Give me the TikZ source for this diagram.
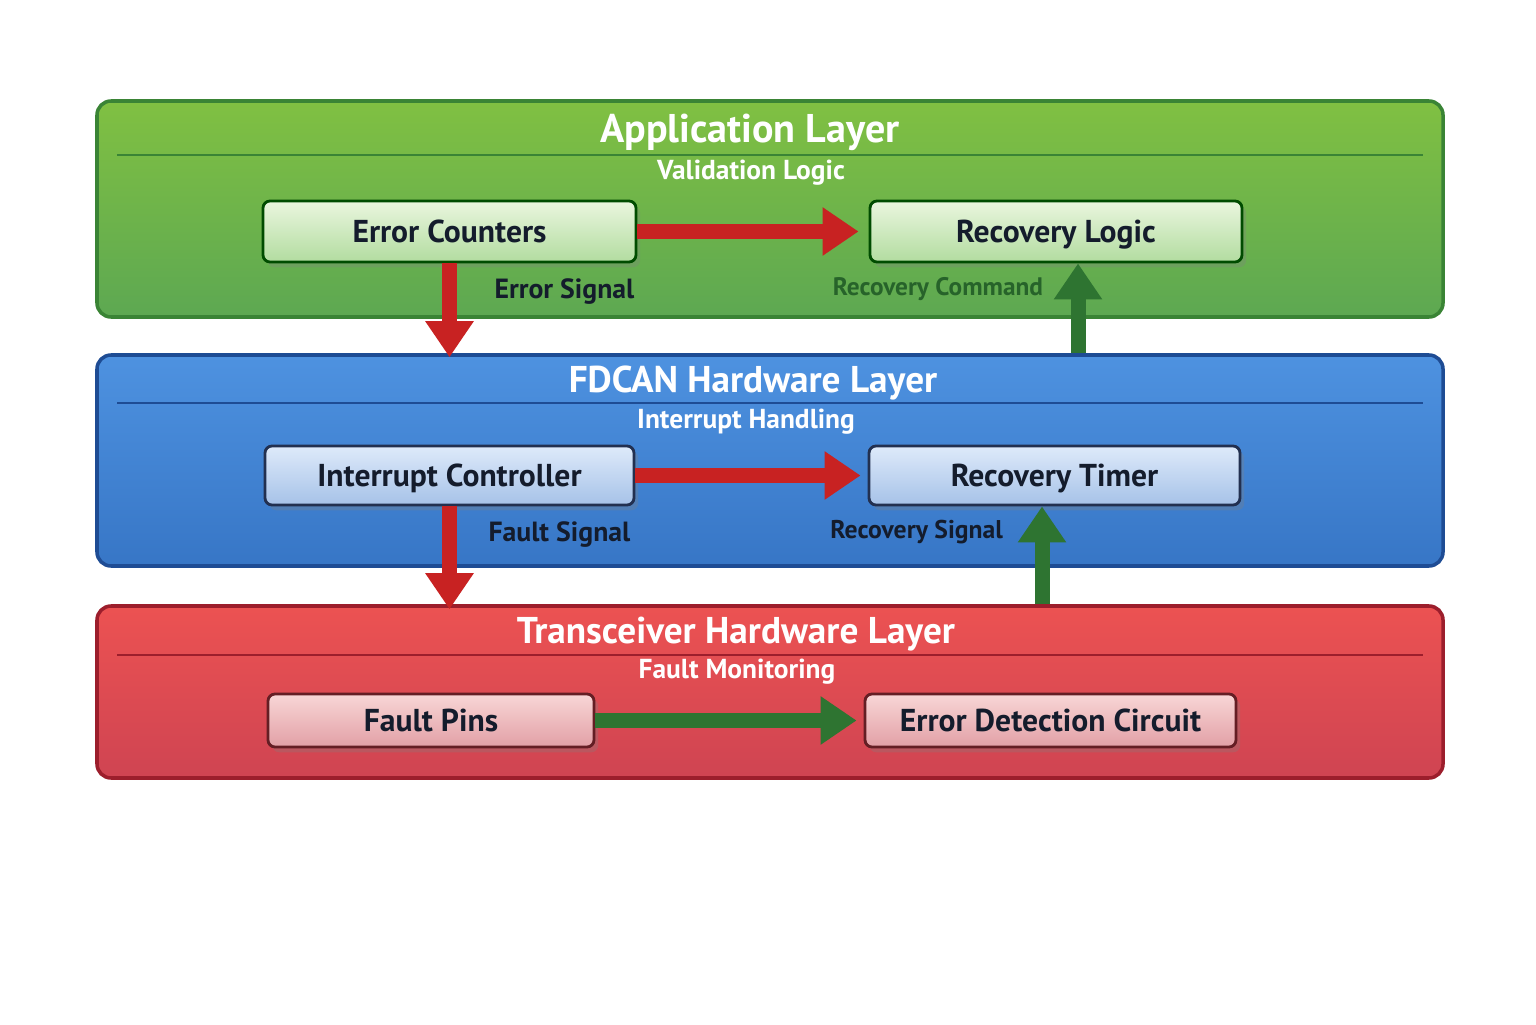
\documentclass[tikz,border=0pt]{standalone}
\usepackage{fontspec}
\setmainfont{PT Sans}
\usepackage{xcolor}
\usepackage{tikz}
\usetikzlibrary{positioning,arrows.meta,shadows}

\definecolor{appTop}{HTML}{80C042}
\definecolor{appBot}{HTML}{5DA852}
\definecolor{appLine}{HTML}{3A8435}
\definecolor{hwTop}{HTML}{4E92E0}
\definecolor{hwBot}{HTML}{3776C6}
\definecolor{hwLine}{HTML}{1E4C94}
\definecolor{trTop}{HTML}{EC5252}
\definecolor{trBot}{HTML}{CF4452}
\definecolor{trLine}{HTML}{9C1E2C}
\definecolor{arrRed}{HTML}{C82222}
\definecolor{arrGreen}{HTML}{2E7431}
\definecolor{txtDark}{HTML}{141C2C}

\begin{document}
\begin{tikzpicture}[
  layer/.style={rounded corners=4pt, line width=1pt, minimum width=13.46cm},
  title/.style={font=\fontsize{10.6}{12}\selectfont\bfseries, text=white},
  subtitle/.style={font=\fontsize{7.8}{9}\selectfont\bfseries, text=white},
  box/.style={draw, rounded corners=2pt, line width=0.8pt, font=\fontsize{9}{11}\selectfont\bfseries, text=txtDark, align=center,
    inner sep=2pt, text height=1.75ex, text depth=0.45ex,
    drop shadow={shadow xshift=1.2pt, shadow yshift=-1.5pt, opacity=0.3}},
  appbox/.style={box, draw=black!70!green, top color={rgb,255:red,234;green,246;blue,222}, bottom color={rgb,255:red,178;green,220;blue,160}},
  hwbox/.style={box, draw={rgb,255:red,34;green,48;blue,80}, top color={rgb,255:red,222;green,234;blue,250}, bottom color={rgb,255:red,166;green,194;blue,232}},
  trbox/.style={box, draw={rgb,255:red,100;green,30;blue,36}, top color={rgb,255:red,248;green,214;blue,214}, bottom color={rgb,255:red,226;green,160;blue,166}},
  arr/.style={-{Triangle[width=0.46cm, length=0.36cm]}, line width=0.15cm},
  redarr/.style={arr, arrRed},
  grnarr/.style={arr, arrGreen},
  siglabel/.style={font=\fontsize{7.9}{10}\selectfont\bfseries, text=txtDark, inner sep=1pt},
]
\useasboundingbox (0,0) rectangle (15.36,10.24);
\fill[white] (0,0) rectangle (15.36,10.24);

% Layer backgrounds
\node[layer, draw=appLine, top color=appTop, bottom color=appBot, minimum height=2.16cm] (app) at (7.70,8.15) {};
\node[layer, draw=hwLine, top color=hwTop, bottom color=hwBot, minimum height=2.11cm] (fdcan) at (7.70,5.635) {};
\node[layer, draw=trLine, top color=trTop, bottom color=trBot, minimum height=1.72cm] (trx) at (7.70,3.32) {};

% Layer headings
\node[title, font=\fontsize{11.4}{13}\selectfont\bfseries] (apptitle) at (7.50,8.92) {Application Layer};
\draw[appLine, line width=0.8pt] (1.17,8.69) -- (14.23,8.69);
\node[subtitle] (appsub) at (7.51,8.51) {Validation Logic};

\node[title] (hwtitle) at (7.53,6.41) {FDCAN Hardware Layer};
\draw[hwLine, line width=0.8pt] (1.17,6.21) -- (14.23,6.21);
\node[subtitle] (hwsub) at (7.46,6.02) {Interrupt Handling};

\node[title] (trtitle) at (7.36,3.90) {Transceiver Hardware Layer};
\draw[trLine, line width=0.8pt] (1.17,3.69) -- (14.23,3.69);
\node[subtitle] (trsub) at (7.37,3.52) {Fault Monitoring};

% Component boxes
\node[appbox, minimum width=3.73cm, minimum height=0.61cm] (ecnt) at (4.495,7.925) {Error Counters};
\node[appbox, minimum width=3.72cm, minimum height=0.61cm] (rlog) at (10.56,7.925) {Recovery Logic};
\node[hwbox, minimum width=3.69cm, minimum height=0.59cm] (irq) at (4.495,5.485) {Interrupt Controller};
\node[hwbox, minimum width=3.71cm, minimum height=0.59cm] (rtim) at (10.545,5.485) {Recovery Timer};
\node[trbox, minimum width=3.26cm, minimum height=0.53cm] (fpins) at (4.31,3.035) {Fault Pins};
\node[trbox, minimum width=3.71cm, minimum height=0.53cm] (edc) at (10.505,3.035) {Error Detection Circuit};

% Flow inside layers
\draw[redarr, shorten >=0.1cm] (ecnt) -- (rlog);
\draw[redarr, shorten >=0.07cm] (irq) -- (rtim);
\draw[grnarr, shorten >=0.07cm] (fpins) -- (edc);

% Flow between layers
\draw[redarr] (ecnt.south) -- node[siglabel, pos=0.3, right=0.34cm] {Error Signal} ([yshift=-0.04cm]ecnt.south |- fdcan.north);
\draw[redarr] (irq.south) -- node[siglabel, pos=0.27, right=0.28cm] {Fault Signal} ([yshift=-0.05cm]irq.south |- trx.north);
\draw[grnarr] ([xshift=0.22cm]rlog.south |- fdcan.north) -- node[siglabel, text=arrGreen!85!black, font=\fontsize{7.2}{9}\selectfont\bfseries, pos=0.72, left=0.24cm] {Recovery Command} ([xshift=0.22cm]rlog.south);
\draw[grnarr] ([xshift=-0.125cm]rtim.south |- trx.north) -- node[siglabel, font=\fontsize{7.3}{9}\selectfont\bfseries, pos=0.74, left=0.28cm] {Recovery Signal} ([xshift=-0.125cm]rtim.south);
\end{tikzpicture}
\end{document}
